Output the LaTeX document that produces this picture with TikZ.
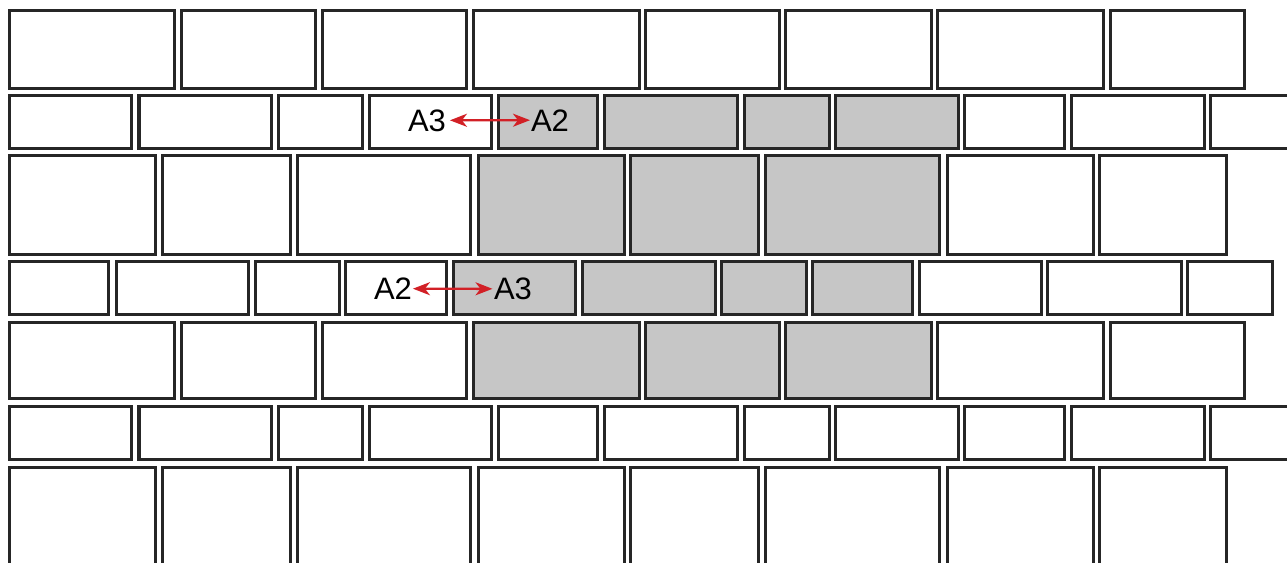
\documentclass[tikz,border=0pt]{standalone}
\usepackage{fontspec}
\setmainfont{Liberation Sans}
\usetikzlibrary{arrows.meta}
\definecolor{edge}{RGB}{38,38,38}
\definecolor{shade}{RGB}{198,198,198}
\definecolor{arrowred}{RGB}{210,32,38}
\tikzset{
  brick/.style={draw=edge, line width=3.2pt, fill=white},
  brickgray/.style={brick, fill=shade},
  lbl/.style={inner sep=0pt, outer sep=0pt, anchor=base west, font=\fontsize{31}{36}\selectfont},
  redarrow/.style={draw=arrowred, line width=2.4pt,
    {Stealth[length=17pt,width=13pt,inset=5pt]}-{Stealth[length=17pt,width=13pt,inset=5pt]}}
}
\newcommand{\brickrow}[4]{% #1 top, #2 bottom, #3 list of white, #4 list of gray
  \foreach \xa/\xb in {#3} {\draw[brick] (\xa+1.5,#1+1.5) rectangle (\xb-1.5,#2-1.5);}
  \foreach \xa/\xb in {#4} {\draw[brickgray] (\xa+1.5,#1+1.5) rectangle (\xb-1.5,#2-1.5);}
}
\begin{document}
\begin{tikzpicture}[x=1pt,y=-1pt]
\useasboundingbox (0,0) rectangle (1287,562);
\clip (0,0) rectangle (1287,562);
\fill[white] (0,0) rectangle (1287,562);
% row 1
\brickrow{9}{90}{8/176,180/317,321/468,472/641,644/781,784/933,936/1105,1109/1246}{}
% row 2
\brickrow{94}{150}{8/133,137.5/273,277/364,368/493,963/1066,1070/1206,1209/1297}{497/599,603/739,743/831,834/960}
% row 3
\brickrow{154}{256}{8/157,161/292,296/472,946/1095,1098/1228}{477/626,629/760,764/941}
% row 4
\brickrow{260}{316}{8/110,115/250,254/341,344/448,918/1043,1046/1183,1186/1274}{452/577,581/717,720/808,811/914}
% row 5
\brickrow{321}{400}{8/176,180/317,321/468,936/1105,1109/1246}{472/641,644/781,784/933}
% row 6
\brickrow{405}{461}{8/133,137.5/273,277/364,368/493,497/599,603/739,743/831,834/960,963/1066,1070/1206,1209/1297}{}
% row 7
\brickrow{466}{600}{8/157,161/292,296/472,477/626,629/760,764/941,946/1095,1098/1228}{}
% labels
\node[lbl] (ua3) at (408,131) {A3};
\node[lbl] (ua2) at (531,131) {A2};
\node[lbl] (la2) at (374,299.5) {A2};
\node[lbl] (la3) at (494,299.5) {A3};
\draw[redarrow, shorten <=4pt, shorten >=1pt] (ua3.east) -- (ua2.west);
\draw[redarrow, shorten <=1pt, shorten >=1.5pt] (la2.east) -- (la3.west);
\end{tikzpicture}
\end{document}
